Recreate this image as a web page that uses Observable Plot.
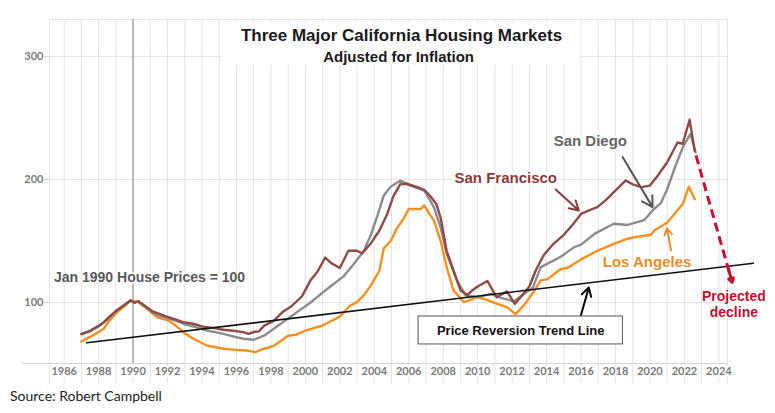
<!DOCTYPE html>
<html>
<head>
<meta charset="utf-8">
<script src="https://cdn.jsdelivr.net/npm/d3@7"></script>
<script src="https://cdn.jsdelivr.net/npm/@observablehq/plot@0.6"></script>
<style>
  html, body { margin: 0; padding: 0; background: #fff; }
  #chart { width: 775px; height: 413px; overflow: hidden; }
  #caption { font-family: Lato, "Open Sans", sans-serif; font-size: 14px; line-height: 18px; color: #222; padding-left: 10px; margin: 0; }
  svg { overflow: visible; }
</style>
</head>
<body>
<div id="chart"></div>
<script>
// ---- data (index, Jan 1990 = 100, inflation adjusted) ----
const sanFrancisco = [[1987.0,74.5],[1987.5,77],[1988.0,81],[1988.3,84],[1988.6,88],[1989.0,93],[1989.5,98],[1989.85,101.6],[1990.1,99.8],[1990.3,101],[1990.7,97],[1991.1,93],[1991.4,91.3],[1991.7,90],[1992.05,88],[1992.5,86],[1992.9,84],[1993.5,82.7],[1994.0,80.5],[1994.3,80],[1994.8,79],[1995.25,77.8],[1995.8,77],[1996.4,75.9],[1996.7,74.5],[1997.0,76],[1997.3,76.5],[1997.6,81],[1998.2,85.4],[1998.7,92.5],[1999.2,97],[1999.5,101],[1999.8,105],[2000.3,118],[2000.7,125],[2001.15,136.5],[2001.5,132],[2002.0,128],[2002.5,142],[2003.0,142],[2003.3,140],[2003.8,148],[2004.3,158.5],[2004.75,172],[2005.1,186],[2005.5,196],[2005.9,196.5],[2006.5,193.7],[2006.9,191.5],[2007.3,185.6],[2007.6,180],[2007.85,169],[2008.2,142],[2008.6,126],[2009.0,110],[2009.4,106],[2009.7,110],[2010.0,113],[2010.56,117.5],[2011.1,104.3],[2011.7,109],[2012.15,98.9],[2012.6,106],[2013.0,113],[2013.4,127],[2013.86,139],[2014.4,147.7],[2015.0,155],[2015.5,163],[2016.0,172],[2016.5,175],[2016.95,177.5],[2017.5,184],[2017.9,189.7],[2018.6,199.2],[2019.0,196],[2019.5,193.7],[2020.0,195],[2020.45,203],[2021.0,214],[2021.6,230],[2021.9,229],[2022.3,248.5],[2022.6,223]];
const sanDiego = [[1987.0,74],[1987.5,76.5],[1988.0,80.5],[1988.5,86],[1989.0,93],[1989.5,98],[1989.85,101.6],[1990.1,99.8],[1990.3,101],[1990.7,97],[1991.1,92],[1991.4,90],[1992.0,87],[1992.5,85],[1992.9,82.7],[1993.5,80.5],[1994.3,77.2],[1995.25,74.5],[1995.8,72.5],[1996.4,70.5],[1997.0,69.7],[1997.6,73],[1998.2,79],[1998.7,84],[1999.1,88],[1999.8,95],[2000.3,100],[2001.0,108],[2001.45,113],[2002.2,121],[2002.8,131],[2003.4,142],[2003.8,155],[2004.17,170],[2004.55,187],[2004.95,194],[2005.5,199],[2006.1,195],[2006.9,191],[2007.46,177.5],[2007.85,161],[2008.2,139.6],[2008.8,117.9],[2009.3,105.7],[2010.0,104.3],[2010.76,107],[2011.2,104.3],[2012.1,101],[2012.7,107],[2013.2,112],[2013.66,128.7],[2014.4,134],[2014.8,137],[2015.6,145],[2016.0,147],[2016.8,156],[2017.9,164],[2018.7,163],[2019.67,167],[2020.15,174.8],[2020.64,181],[2021.0,192],[2021.4,208],[2021.9,226],[2022.35,237],[2022.65,222]];
const losAngeles = [[1987.0,68.3],[1987.5,72],[1988.0,76],[1988.3,78.6],[1988.56,84],[1989.0,91],[1989.5,97],[1989.85,101.6],[1990.3,100.3],[1990.8,95],[1991.4,88],[1992.05,85.4],[1992.5,81],[1992.9,75.9],[1993.5,70.5],[1994.28,65],[1995.25,62.4],[1996.0,61.5],[1996.6,61],[1997.1,59.6],[1997.6,62.4],[1998.2,65],[1999.0,73],[1999.5,74],[2000.0,77.2],[2001.0,81.3],[2002.0,88.5],[2002.6,97.5],[2003.0,100.3],[2003.4,106],[2003.8,113.8],[2004.3,126],[2004.55,144],[2004.95,150],[2005.3,160],[2005.7,168],[2006.0,176],[2006.7,176],[2006.9,178.9],[2007.2,172],[2007.46,166.7],[2007.85,150],[2008.2,128.7],[2008.6,109.7],[2009.2,100.3],[2010.0,104.3],[2010.56,102],[2011.1,99],[2011.7,96.2],[2012.2,90.5],[2012.7,98],[2013.3,109.7],[2013.66,118],[2014.05,119],[2014.8,127],[2015.2,128],[2016.0,135],[2016.95,142],[2017.9,147.7],[2018.7,151.8],[2019.1,153],[2020.06,155],[2020.25,158.5],[2021.0,165],[2021.9,180],[2022.25,194],[2022.6,184]];

const trendYears = [1987.3, 2026.0];
const trendValues = [67.2, 131.9];
const projectionYears = [2022.67, 2024.77];
const projectionValues = [219.5, 116.3];
const projectionHeadFrom = [2024.55, 127.5];

const xDomain = [1985.15, 2024.5];
const yDomain = [50.4, 330];
const gridYears = d3.range(1986, 2025);
const yearLabels = d3.range(1986, 2025, 2);
const valueTicks = [100, 200, 300];
const referenceYear = 1990;

const titleLines = [
  {text: "Three Major California Housing Markets", x: 2005.58, y: 317.1, size: 17},
  {text: "Adjusted for Inflation", x: 2005.41, y: 299.2, size: 15}
];
const titleBox = {x1: 1995.17, x2: 2015.99, y1: 292.7, y2: 326.8};
const seriesLabels = [
  {text: "San Francisco", x: 2011.63, y: 200.8, color: "#8b3a3a"},
  {text: "San Diego", x: 2016.54, y: 230.9, color: "#666666"},
  {text: "Los Angeles", x: 2019.83, y: 132.5, color: "#f08a24"}
];
const pointers = [
  {x1: 2014.53, y1: 191.9, x2: 2015.87, y2: 174.8, color: "#8b3a3a"},
  {x1: 2018.41, y1: 218.2, x2: 2020.15, y2: 177.5, color: "#555555"},
  {x1: 2021.22, y1: 142.3, x2: 2020.99, y2: 160.2, color: "#f08a24"},
  {x1: 2015.99, y1: 89.4, x2: 2016.45, y2: 112.2, color: "#000000"}
];
const baseNote = {text: "Jan 1990 House Prices = 100", x: 1985.41, y: 120.3};
const trendBox = {x1: 2006.57, x2: 2018.43, y1: 65.9, y2: 88.6, text: "Price Reversion Trend Line", x: 2012.5, y: 77.2};
const projectionNote = {text: "Projected\ndecline", x: 2024.87, y: 99.2};

const toRows = (pairs, city) => pairs.map(([year, value]) => ({year, value, city}));
const seriesRows = [
  ...toRows(losAngeles, "Los Angeles"),
  ...toRows(sanDiego, "San Diego"),
  ...toRows(sanFrancisco, "San Francisco")
];
const cityColors = {"Los Angeles": "#f7901e", "San Diego": "#8c8c8c", "San Francisco": "#8e4b48"};

const axisFont = {fontFamily: "Lato", fontWeight: "bold", fontSize: 11, fill: "#7a7a7a"};
const labelFont = {fontFamily: "Liberation Sans", fontWeight: "bold"};

const chart = Plot.plot({
  width: 775,
  height: 387,
  marginLeft: 49,
  marginRight: 48,
  marginTop: 19,
  marginBottom: 24,
  x: {domain: xDomain, axis: null},
  y: {domain: yDomain, axis: null},
  style: {fontFamily: "Liberation Sans", background: "white", overflow: "visible"},
  marks: [
    // vertical gridlines (extend below axis as separators)
    Plot.ruleX([xDomain[0], ...gridYears, xDomain[1]], {y1: 34.2, y2: yDomain[1], stroke: "#e3e3e3", strokeWidth: 1}),
    // horizontal gridlines
    Plot.ruleY([...valueTicks, yDomain[1]], {x1: xDomain[0], x2: xDomain[1], stroke: "#e3e3e3", strokeWidth: 1}),
    // y tick marks
    Plot.ruleY(valueTicks, {x1: xDomain[0] - 0.3, x2: xDomain[0], stroke: "#d0d0d0"}),
    // baseline
    Plot.ruleY([yDomain[0]], {x1: 1983.55, x2: xDomain[1], stroke: "#d6d6d6", strokeWidth: 1}),
    // reference year line
    Plot.ruleX([referenceYear], {y1: yDomain[0], y2: yDomain[1], stroke: "#a8a8a8", strokeWidth: 1.5}),
    // axis labels
    Plot.text(yearLabels, {x: d => d, frameAnchor: "bottom", dy: 11, text: d => String(d), ...axisFont, stroke: "white", strokeWidth: 4, paintOrder: "stroke"}),
    Plot.text(valueTicks, {y: d => d, frameAnchor: "left", dx: -6, textAnchor: "end", text: d => String(d), ...axisFont}),
    // title box + title
    Plot.rect([titleBox], {x1: "x1", x2: "x2", y1: "y1", y2: "y2", fill: "white"}),
    Plot.text(titleLines, {x: "x", y: "y", text: "text", fontSize: "size", ...labelFont, fill: "#1a1a1a"}),
    // series
    Plot.line(seriesRows, {x: "year", y: "value", z: "city", stroke: d => cityColors[d.city], strokeWidth: 2.4, curve: "linear"}),
    // trend line
    Plot.line(trendYears.map((year, i) => ({year, value: trendValues[i]})), {x: "year", y: "value", stroke: "#111", strokeWidth: 1.6}),
    // projection
    Plot.link([{x1: projectionYears[0], y1: projectionValues[0], x2: projectionYears[1], y2: projectionValues[1]}],
      {x1: "x1", y1: "y1", x2: "x2", y2: "y2", stroke: "#c8102e", strokeWidth: 3, strokeDasharray: "9,5"}),
    Plot.arrow([{x1: projectionHeadFrom[0], y1: projectionHeadFrom[1], x2: projectionYears[1], y2: projectionValues[1]}],
      {x1: "x1", y1: "y1", x2: "x2", y2: "y2", stroke: "#c8102e", strokeWidth: 3, headLength: 13}),
    // pointer arrows
    Plot.arrow(pointers, {x1: "x1", y1: "y1", x2: "x2", y2: "y2", stroke: d => d.color, strokeWidth: 2, headLength: 9}),
    // labels
    Plot.text(seriesLabels, {x: "x", y: "y", text: "text", fill: d => d.color, fontSize: 15, ...labelFont, stroke: "white", strokeWidth: 5, paintOrder: "stroke"}),
    Plot.text([baseNote], {x: "x", y: "y", text: "text", textAnchor: "start", fill: "#595959", fontSize: 14, ...labelFont, stroke: "white", strokeWidth: 4, paintOrder: "stroke"}),
    Plot.rect([trendBox], {x1: "x1", x2: "x2", y1: "y1", y2: "y2", fill: "white", stroke: "#555", strokeWidth: 1}),
    Plot.text([trendBox], {x: "x", y: "y", text: "text", fill: "#111", fontSize: 13, ...labelFont}),
    Plot.text([projectionNote], {x: "x", y: "y", text: "text", fill: "#c8102e", fontSize: 14, lineHeight: 1.15, ...labelFont})
  ]
});

const root = document.getElementById("chart");
root.appendChild(chart);
const cap = document.createElement("div");
cap.id = "caption";
cap.textContent = "Source: Robert Campbell";
root.appendChild(cap);
</script>
</body>
</html>
